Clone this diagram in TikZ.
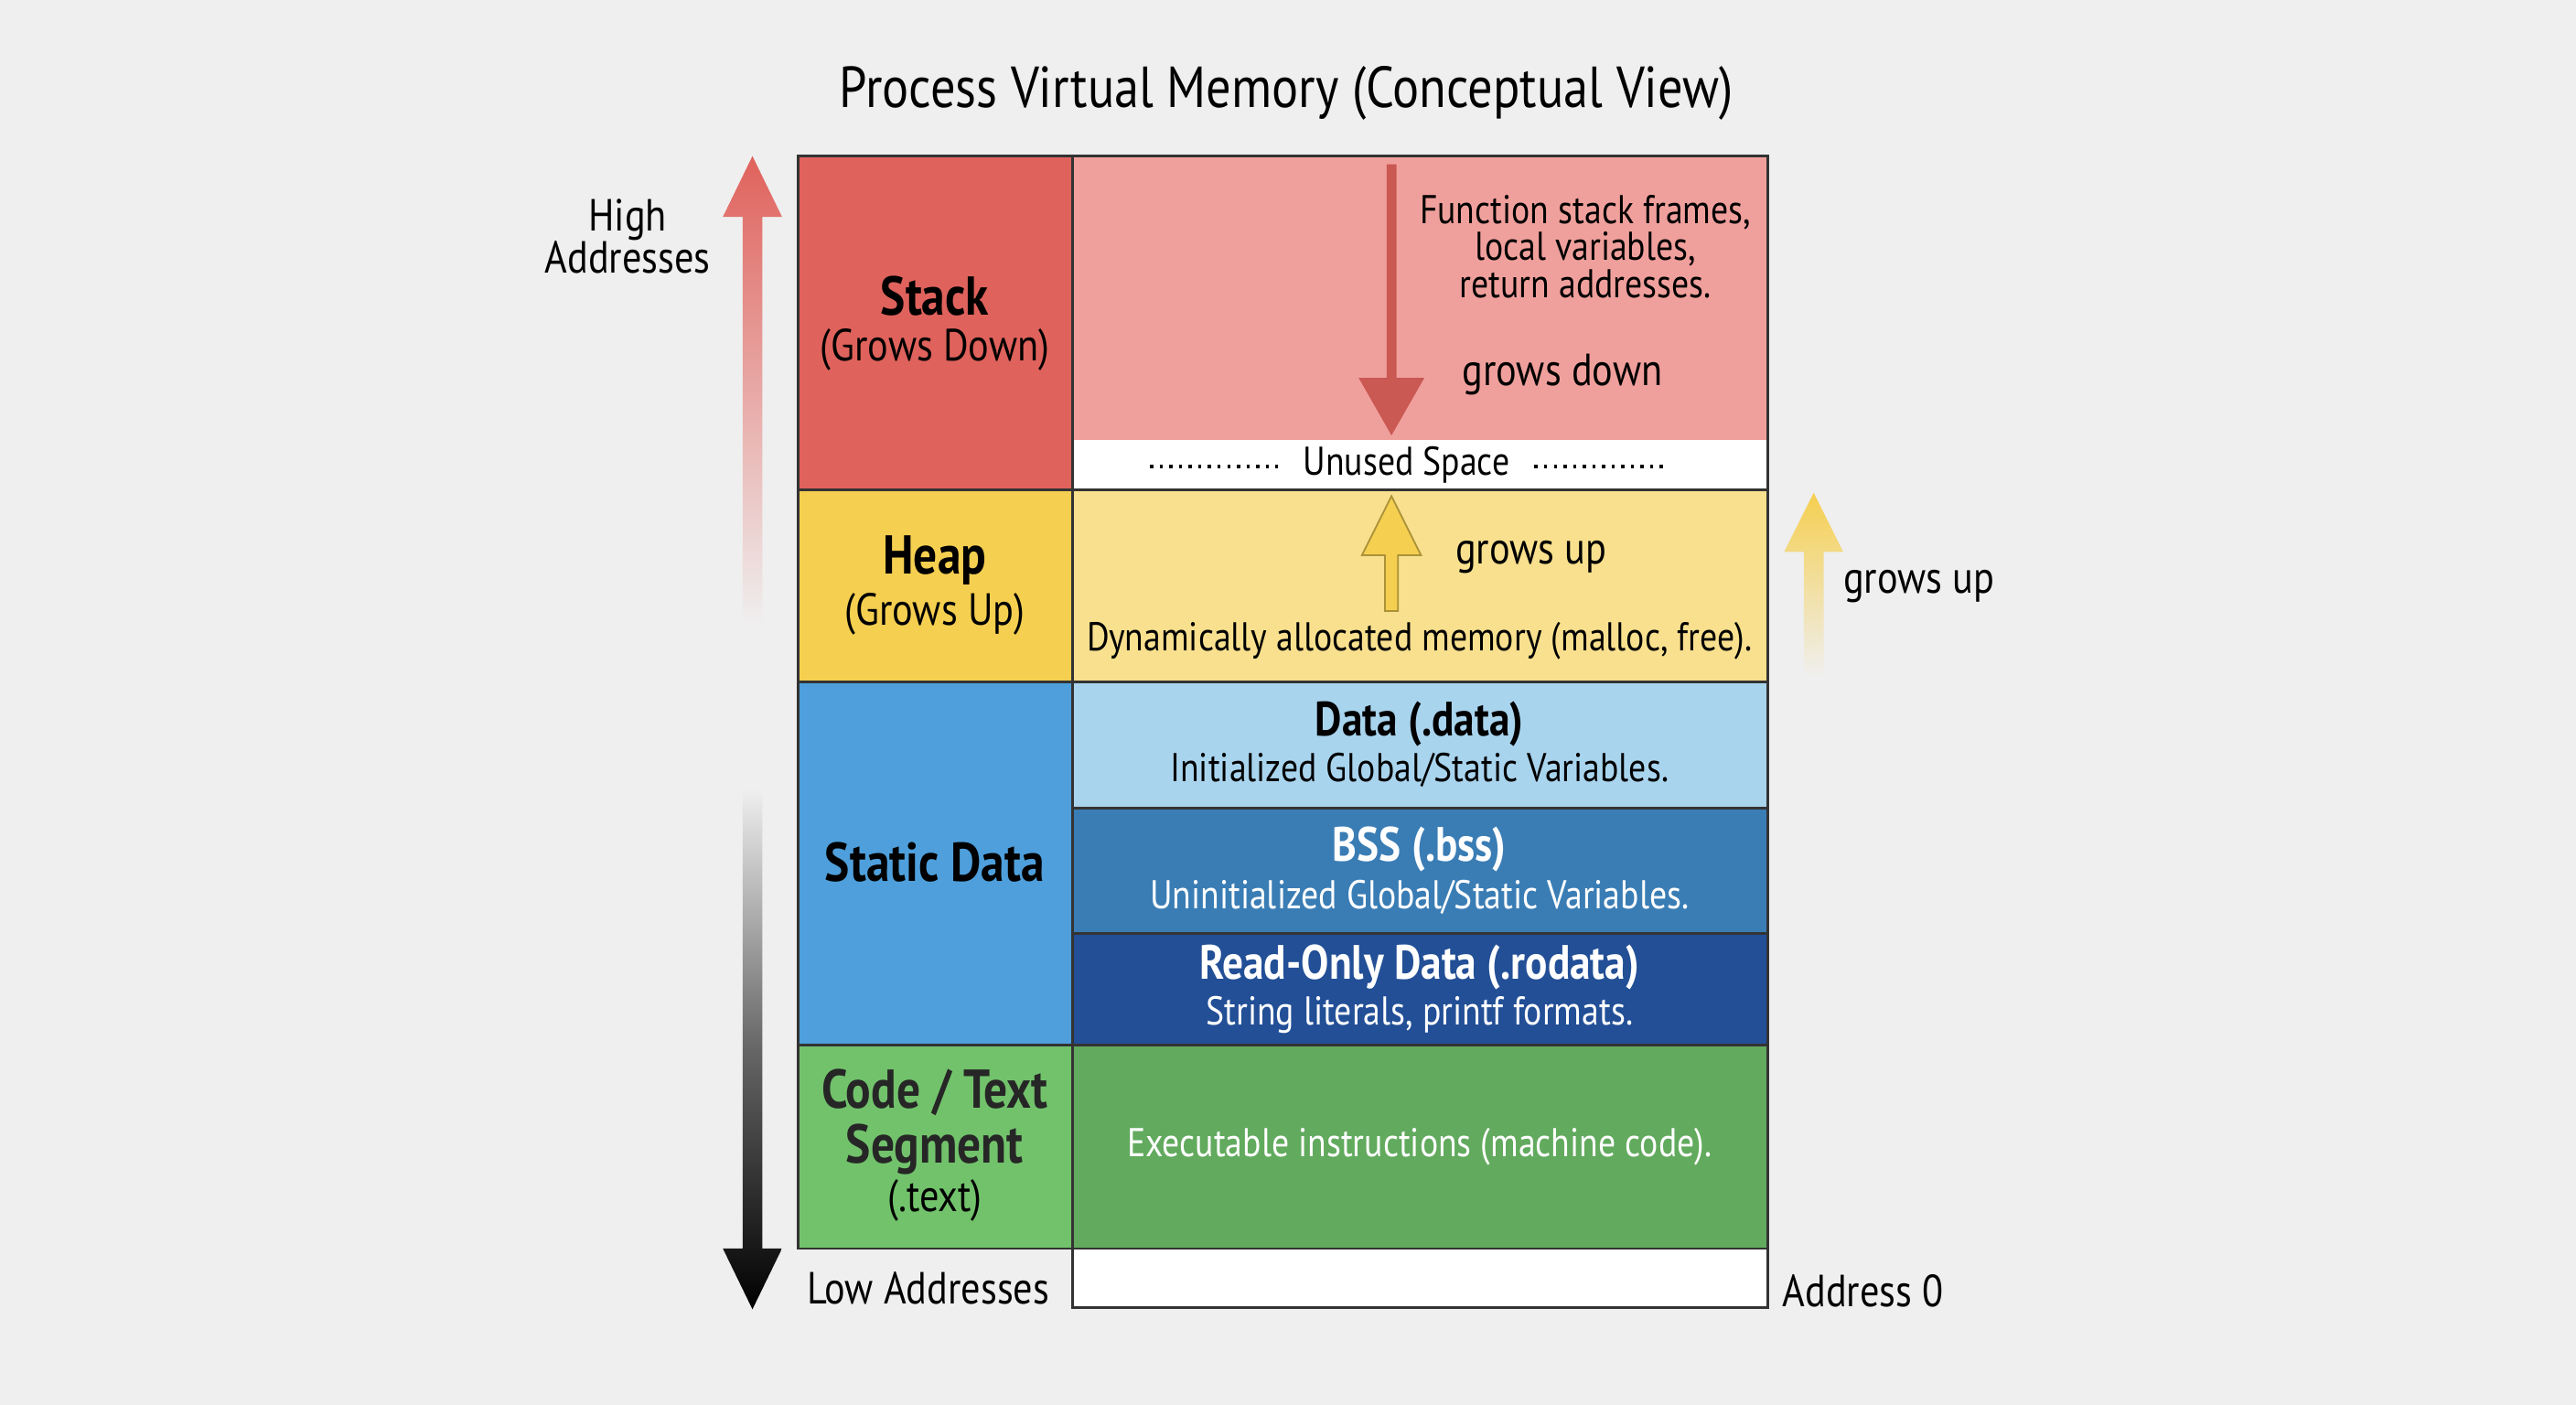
\documentclass[tikz,border=0pt]{standalone}
\usepackage{fontspec}
\setmainfont{PT Sans}[FakeStretch=0.86]
\begin{document}
\begin{tikzpicture}[x=0.01796cm,y=-0.01796cm,
 box/.style={draw=black!80,line width=0.8pt},
 lab/.style={font=\fontsize{14}{16}\selectfont,align=center},
 big/.style={font=\fontsize{17}{19}\selectfont\bfseries,align=center},
 txt/.style={font=\fontsize{12.5}{14.5}\selectfont,align=center}]
\definecolor{sred}{HTML}{E0625C}\definecolor{spink}{HTML}{F0A09C}
\definecolor{syel}{HTML}{F5CF50}\definecolor{lyel}{HTML}{F8E08E}
\definecolor{sblu}{HTML}{4E9FDB}\definecolor{lblu}{HTML}{A9D4EE}
\definecolor{mblu}{HTML}{3A7DB5}\definecolor{dblu}{HTML}{224F96}
\definecolor{sgrn}{HTML}{72C26C}\definecolor{dgrn}{HTML}{62AA5E}
\definecolor{bg}{HTML}{EFEFEF}
\fill[bg] (0,0) rectangle (1568,855);
\useasboundingbox (0,0) rectangle (1568,855);
\node[font=\fontsize{18}{20}\selectfont] (title) at (783,57) {Process Virtual Memory (Conceptual View)};
% left column
\fill[sred] (486,95) rectangle (653,298);
\fill[syel] (486,298) rectangle (653,415);
\fill[sblu] (486,415) rectangle (653,636);
\fill[sgrn] (486,636) rectangle (653,760);
% right column
\fill[spink] (653,95) rectangle (1076,268);
\fill[white] (653,268) rectangle (1076,298);
\fill[lyel] (653,298) rectangle (1076,415);
\fill[lblu] (653,415) rectangle (1076,492);
\fill[mblu] (653,492) rectangle (1076,568);
\fill[dblu] (653,568) rectangle (1076,636);
\fill[dgrn] (653,636) rectangle (1076,760);
\fill[white] (653,760) rectangle (1076,796);
% borders
\draw[box] (486,95) rectangle (1076,760);
\draw[box] (653,95) -- (653,796) -- (1076,796) -- (1076,760);
\foreach \y in {298,415,636} \draw[box] (486,\y) -- (653,\y);
\foreach \y in {298,415,492,568,636} \draw[box] (653,\y) -- (1076,\y);
% left labels
\node[big] (stk) at (569,180) {Stack};
\node[lab] (stk2) at (569,213) {(Grows Down)};
\node[big] (hp) at (569,341) {Heap};
\node[lab] (hp2) at (569,374) {(Grows Up)};
\node[big] (sd) at (569,525) {Static Data};
\node[big,text=black!85] (cd) at (569,683) {Code / Text\\[-2pt]Segment};
\node[lab] (cd2) at (569,731) {(.text)};
% right labels
\node[txt] (fsf) at (965,150) {Function stack frames,\\[-3pt]local variables,\\[-3pt]return addresses.};
\node[lab] (gd) at (951,228) {grows down};
\node[txt] (un) at (856,283) {Unused Space};
\draw[dotted,line width=1pt] (700,284) -- (778,284) (934,284) -- (1012,284);
\node[lab] (gu) at (932,339) {grows up};
\node[txt] (dyn) at (864,390) {Dynamically allocated memory (malloc, free).};
\node[big,font=\fontsize{15}{17}\selectfont\bfseries] (dt) at (864,441) {Data (.data)};
\node[txt] (dt2) at (864,469) {Initialized Global/Static Variables.};
\node[big,font=\fontsize{15}{17}\selectfont\bfseries,text=white] (bss) at (864,517) {BSS (.bss)};
\node[txt,text=white] (bss2) at (864,546) {Uninitialized Global/Static Variables.};
\node[big,font=\fontsize{15}{17}\selectfont\bfseries,text=white] (ro) at (864,589) {Read-Only Data (.rodata)};
\node[txt,text=white] (ro2) at (864,618) {String literals, printf formats.};
\node[txt,text=white] (ex) at (864,698) {Executable instructions (machine code).};
% arrows in boxes
\fill[sred!90!black] (844,100) rectangle (850,230) (827,230) -- (867,230) -- (847,265) -- cycle;
\filldraw[fill=syel,draw=syel!70!black,line width=0.5pt] (843,372) -- (843,338) -- (829,338) -- (847,302) -- (865,338) -- (851,338) -- (851,372) -- cycle;
% outside arrows
\shade[top color=sred,bottom color=bg] (452,380) -- (452,132) -- (440,132) -- (458,95) -- (476,132) -- (464,132) -- (464,380) -- cycle;
\shade[top color=bg,bottom color=black,middle color=black!60] (452,480) -- (452,760) -- (440,760) -- (458,797) -- (476,760) -- (464,760) -- (464,480) -- cycle;
\shade[top color=syel,bottom color=bg] (1098,412) -- (1098,336) -- (1086,336) -- (1104,300) -- (1122,336) -- (1110,336) -- (1110,412) -- cycle;
\node[lab] (ha) at (382,144) {High\\[-3pt]Addresses};
\node[lab] (gu2) at (1168,357) {grows up};
\node[lab] (la) at (565,784) {Low Addresses};
\node[lab] (a0) at (1134,786) {Address 0};
\end{tikzpicture}
\end{document}
